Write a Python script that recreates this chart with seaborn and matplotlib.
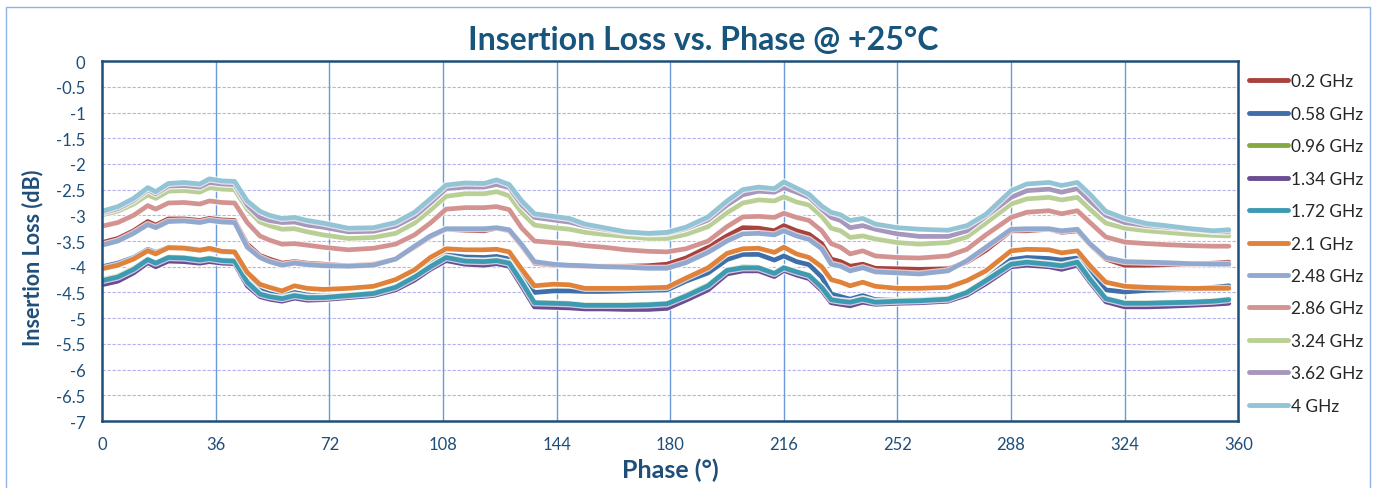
import pandas as pd
import seaborn as sns
import matplotlib.pyplot as plt
import matplotlib.patheffects as pe
from matplotlib.patches import Rectangle
from matplotlib.lines import Line2D

# phase states (deg)
phase = [0, 5, 10, 14.5, 17, 21, 26, 31, 34, 38,
         42, 46, 50, 53, 57, 61, 65, 70, 78, 86,
         93, 99, 104, 109, 115, 121, 125, 129, 133, 137,
         143, 148, 153, 159, 166, 173, 179, 185, 192, 198,
         203, 208, 213, 216, 220, 224, 228, 231, 234, 237,
         241, 245, 252, 259, 268, 274, 280, 288, 293, 300,
         304, 309, 313, 318, 324, 331, 337, 345, 352, 357]

il_0_2 = [-3.53, -3.45, -3.30, -3.12, -3.19, -3.07, -3.07, -3.10, -3.06, -3.09,
          -3.10, -3.56, -3.78, -3.85, -3.93, -3.90, -3.93, -3.95, -3.98, -3.95,
          -3.85, -3.62, -3.42, -3.27, -3.29, -3.30, -3.25, -3.30, -3.60, -3.93,
          -3.97, -3.98, -3.99, -3.99, -3.99, -3.98, -3.95, -3.83, -3.62, -3.40,
          -3.24, -3.25, -3.30, -3.20, -3.30, -3.37, -3.55, -3.85, -3.90, -3.99,
          -3.95, -4.03, -4.04, -4.05, -4.04, -3.91, -3.68, -3.30, -3.30, -3.27,
          -3.33, -3.30, -3.57, -3.85, -3.97, -3.97, -3.96, -3.95, -3.93, -3.91]
il_0_58 = [-4.00, -3.93, -3.82, -3.66, -3.72, -3.62, -3.63, -3.67, -3.66, -3.71,
           -3.72, -4.18, -4.45, -4.52, -4.56, -4.50, -4.55, -4.57, -4.55, -4.52,
           -4.40, -4.18, -3.95, -3.77, -3.81, -3.82, -3.80, -3.85, -4.20, -4.50,
           -4.47, -4.47, -4.48, -4.48, -4.47, -4.46, -4.45, -4.28, -4.12, -3.86,
           -3.76, -3.76, -3.87, -3.79, -3.90, -3.96, -4.20, -4.53, -4.58, -4.63,
           -4.56, -4.64, -4.65, -4.64, -4.61, -4.50, -4.24, -3.86, -3.82, -3.84,
           -3.87, -3.83, -4.11, -4.45, -4.49, -4.46, -4.45, -4.43, -4.40, -4.37]
il_0_96 = [-4.25, -4.18, -4.03, -3.85, -3.92, -3.81, -3.82, -3.86, -3.83, -3.87,
           -3.88, -4.29, -4.52, -4.58, -4.61, -4.55, -4.59, -4.59, -4.55, -4.51,
           -4.39, -4.19, -3.99, -3.81, -3.88, -3.89, -3.87, -3.92, -4.29, -4.69,
           -4.70, -4.71, -4.74, -4.74, -4.74, -4.73, -4.71, -4.55, -4.35, -4.06,
           -4.00, -4.01, -4.12, -4.01, -4.09, -4.16, -4.39, -4.63, -4.66, -4.68,
           -4.62, -4.68, -4.66, -4.65, -4.62, -4.49, -4.26, -3.94, -3.90, -3.94,
           -3.97, -3.90, -4.23, -4.61, -4.70, -4.70, -4.69, -4.68, -4.66, -4.63]
il_1_34 = [-4.35, -4.28, -4.12, -3.92, -4.00, -3.89, -3.90, -3.93, -3.90, -3.93,
           -3.94, -4.37, -4.58, -4.63, -4.67, -4.61, -4.65, -4.64, -4.60, -4.56,
           -4.45, -4.26, -4.05, -3.88, -3.95, -3.97, -3.94, -3.99, -4.38, -4.78,
           -4.79, -4.80, -4.82, -4.82, -4.83, -4.83, -4.81, -4.65, -4.45, -4.14,
           -4.08, -4.08, -4.19, -4.07, -4.16, -4.23, -4.46, -4.70, -4.73, -4.76,
           -4.69, -4.73, -4.71, -4.70, -4.67, -4.55, -4.33, -4.00, -3.97, -4.00,
           -4.05, -3.97, -4.30, -4.68, -4.78, -4.78, -4.77, -4.75, -4.73, -4.71]
il_1_72 = [-4.27, -4.20, -4.05, -3.86, -3.93, -3.82, -3.83, -3.87, -3.84, -3.88,
           -3.89, -4.30, -4.53, -4.58, -4.62, -4.56, -4.60, -4.60, -4.56, -4.52,
           -4.40, -4.20, -4.00, -3.82, -3.89, -3.90, -3.88, -3.93, -4.30, -4.70,
           -4.71, -4.72, -4.75, -4.75, -4.75, -4.74, -4.72, -4.57, -4.37, -4.07,
           -4.02, -4.02, -4.13, -4.02, -4.10, -4.17, -4.40, -4.64, -4.67, -4.69,
           -4.63, -4.69, -4.67, -4.66, -4.63, -4.50, -4.27, -3.95, -3.91, -3.95,
           -3.98, -3.91, -4.24, -4.62, -4.71, -4.71, -4.70, -4.69, -4.67, -4.64]
il_2_1 = [-4.04, -3.97, -3.85, -3.69, -3.75, -3.63, -3.64, -3.68, -3.64, -3.70,
          -3.71, -4.11, -4.34, -4.40, -4.47, -4.37, -4.42, -4.44, -4.42, -4.38,
          -4.25, -4.06, -3.82, -3.65, -3.67, -3.67, -3.66, -3.71, -4.05, -4.37,
          -4.34, -4.35, -4.42, -4.42, -4.42, -4.41, -4.40, -4.22, -4.02, -3.74,
          -3.65, -3.64, -3.72, -3.62, -3.75, -3.82, -4.00, -4.25, -4.30, -4.37,
          -4.30, -4.38, -4.42, -4.42, -4.40, -4.27, -4.08, -3.69, -3.66, -3.67,
          -3.73, -3.69, -3.98, -4.30, -4.38, -4.40, -4.41, -4.42, -4.42, -4.42]
il_2_48 = [-3.58, -3.50, -3.35, -3.18, -3.24, -3.12, -3.11, -3.14, -3.10, -3.13,
           -3.14, -3.62, -3.82, -3.90, -3.97, -3.93, -3.96, -3.98, -3.99, -3.97,
           -3.85, -3.60, -3.40, -3.26, -3.26, -3.26, -3.24, -3.28, -3.57, -3.90,
           -3.95, -3.97, -3.98, -4.00, -4.01, -4.03, -4.03, -3.92, -3.72, -3.50,
           -3.36, -3.35, -3.38, -3.30, -3.40, -3.47, -3.65, -3.95, -3.99, -4.08,
           -4.02, -4.10, -4.12, -4.14, -4.08, -3.88, -3.62, -3.27, -3.26, -3.26,
           -3.30, -3.27, -3.55, -3.82, -3.90, -3.91, -3.92, -3.94, -3.95, -3.95]
il_2_86 = [-3.21, -3.14, -3.00, -2.81, -2.88, -2.76, -2.75, -2.78, -2.72, -2.75,
           -2.76, -3.14, -3.40, -3.48, -3.56, -3.55, -3.58, -3.62, -3.67, -3.64,
           -3.56, -3.38, -3.15, -2.88, -2.85, -2.85, -2.83, -2.89, -3.25, -3.50,
           -3.53, -3.55, -3.59, -3.62, -3.67, -3.70, -3.71, -3.65, -3.50, -3.22,
           -3.03, -3.02, -3.04, -2.96, -3.04, -3.10, -3.30, -3.55, -3.62, -3.75,
           -3.69, -3.79, -3.82, -3.83, -3.79, -3.66, -3.38, -3.04, -2.94, -2.91,
           -2.97, -2.91, -3.14, -3.42, -3.52, -3.55, -3.57, -3.59, -3.60, -3.60]
il_3_24 = [-2.99, -2.92, -2.78, -2.60, -2.67, -2.53, -2.52, -2.55, -2.46, -2.49,
           -2.50, -2.88, -3.13, -3.20, -3.27, -3.26, -3.32, -3.38, -3.45, -3.43,
           -3.35, -3.15, -2.90, -2.63, -2.58, -2.58, -2.54, -2.62, -2.95, -3.19,
           -3.24, -3.27, -3.33, -3.37, -3.41, -3.45, -3.45, -3.37, -3.22, -2.95,
           -2.76, -2.70, -2.72, -2.64, -2.74, -2.80, -3.02, -3.25, -3.30, -3.43,
           -3.40, -3.46, -3.53, -3.56, -3.53, -3.42, -3.15, -2.78, -2.68, -2.65,
           -2.70, -2.65, -2.88, -3.15, -3.25, -3.30, -3.33, -3.37, -3.39, -3.40]
il_3_62 = [-2.95, -2.87, -2.71, -2.50, -2.58, -2.43, -2.42, -2.45, -2.36, -2.39,
           -2.40, -2.80, -3.04, -3.10, -3.14, -3.13, -3.19, -3.23, -3.32, -3.31,
           -3.21, -3.02, -2.76, -2.48, -2.45, -2.45, -2.40, -2.46, -2.80, -3.04,
           -3.09, -3.13, -3.21, -3.27, -3.33, -3.36, -3.35, -3.26, -3.09, -2.80,
           -2.60, -2.53, -2.55, -2.46, -2.55, -2.65, -2.88, -3.04, -3.10, -3.24,
           -3.20, -3.27, -3.36, -3.41, -3.41, -3.30, -3.02, -2.65, -2.52, -2.49,
           -2.55, -2.48, -2.72, -3.00, -3.14, -3.20, -3.23, -3.27, -3.31, -3.32]
il_4 = [-2.92, -2.83, -2.67, -2.46, -2.54, -2.38, -2.36, -2.39, -2.29, -2.33,
        -2.34, -2.72, -2.92, -3.00, -3.06, -3.04, -3.10, -3.15, -3.25, -3.24,
        -3.14, -2.94, -2.68, -2.41, -2.37, -2.38, -2.31, -2.40, -2.72, -2.97,
        -3.02, -3.06, -3.17, -3.24, -3.32, -3.35, -3.33, -3.23, -3.03, -2.72,
        -2.50, -2.45, -2.48, -2.35, -2.47, -2.59, -2.82, -2.94, -2.99, -3.10,
        -3.06, -3.17, -3.24, -3.27, -3.29, -3.20, -2.98, -2.52, -2.39, -2.36,
        -2.42, -2.36, -2.59, -2.92, -3.06, -3.16, -3.20, -3.26, -3.30, -3.28]

freqs = ["0.2 GHz", "0.58 GHz", "0.96 GHz", "1.34 GHz", "1.72 GHz", "2.1 GHz",
         "2.48 GHz", "2.86 GHz", "3.24 GHz", "3.62 GHz", "4 GHz"]
series = [il_0_2, il_0_58, il_0_96, il_1_34, il_1_72, il_2_1,
          il_2_48, il_2_86, il_3_24, il_3_62, il_4]
colors = ["#A8423F", "#3E6FA9", "#86A844", "#6B4C93", "#3C9AB2", "#E0823A",
          "#92A9CF", "#D39391", "#B9CF96", "#A797BC", "#93C4D6"]

x_ticks = [0, 36, 72, 108, 144, 180, 216, 252, 288, 324, 360]
y_ticks = [0, -0.5, -1, -1.5, -2, -2.5, -3, -3.5, -4, -4.5, -5, -5.5, -6, -6.5, -7]
y_labels = ["0", "-0.5", "-1", "-1.5", "-2", "-2.5", "-3", "-3.5", "-4",
            "-4.5", "-5", "-5.5", "-6", "-6.5", "-7"]

rows = []
for f, vals in zip(freqs, series):
    for p, v in zip(phase, vals):
        rows.append({"phase": p, "loss": v, "freq": f})
df = pd.DataFrame(rows)

sns.set_style("white")
plt.rcParams["font.family"] = ["Lato", "DejaVu Sans"]

navy = "#1F4E79"
fig = plt.figure(figsize=(13.79, 4.89), dpi=100)
ax = fig.add_axes([0.074, 0.137, 0.824, 0.736])

sns.lineplot(data=df, x="phase", y="loss", hue="freq", hue_order=freqs,
             palette=dict(zip(freqs, colors)), linewidth=3.4, ax=ax, legend=False)
for ln in ax.lines:
    ln.set_path_effects([pe.Stroke(linewidth=5.2, foreground="white", alpha=0.7),
                         pe.Normal()])

ax.set_xlim(0, 360)
ax.set_ylim(-7, 0)
ax.set_xticks(x_ticks)
ax.set_yticks(y_ticks)
ax.set_yticklabels(y_labels)
ax.tick_params(length=0, labelsize=12, colors=navy)
ax.tick_params(axis="x", pad=11)
ax.tick_params(axis="y", pad=12)

for y in y_ticks[1:-1]:
    ax.axhline(y, color="#B3B3F2", lw=0.8, ls=(0, (3, 1.5)), zorder=0)
for x in x_ticks[1:-1]:
    ax.axvline(x, color="#6A9BD8", lw=1.0, zorder=0)

for s in ax.spines.values():
    s.set_color(navy)
    s.set_linewidth(1.8)

ax.set_xlabel("Phase (°)", fontsize=18, fontweight="bold", color=navy, labelpad=4)
ax.set_ylabel("Insertion Loss (dB)", fontsize=15.5, fontweight="bold", color=navy)
ax.yaxis.set_label_coords(-0.052, 0.457)
fig.text(0.51, 0.918, "Insertion Loss vs. Phase @ +25°C", ha="center", va="center",
         fontsize=23, fontweight="bold", color="#17557D")

handles = [Line2D([], [], color=c, lw=3.5) for c in colors]
fig.legend(handles, freqs, loc="upper left", bbox_to_anchor=(0.9055, 0.848),
           frameon=False, fontsize=12.4, handlelength=2.3, handletextpad=0.15,
           labelspacing=0.955, borderpad=0, borderaxespad=0)

fig.add_artist(Rectangle((6 / 1379, -0.02), 1364 / 1379, 1.0 - 8 / 489 + 0.02,
                         transform=fig.transFigure, fill=False,
                         edgecolor="#8DB3E2", lw=1.0))

fig.savefig("out.png", dpi=100)
